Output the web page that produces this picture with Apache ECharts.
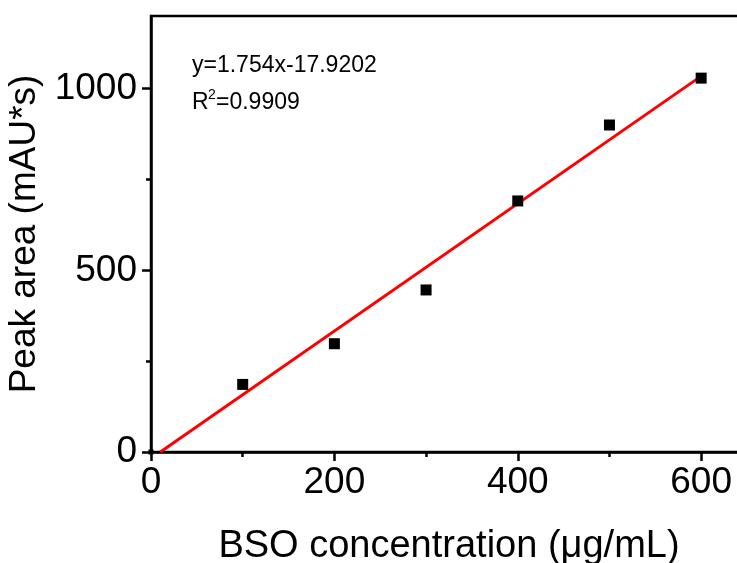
<!DOCTYPE html>
<html>
<head>
<meta charset="utf-8">
<script src="https://cdn.jsdelivr.net/npm/echarts@6/dist/echarts.min.js"></script>
<style>
  html, body { margin: 0; padding: 0; background: #fff; }
  #chart { width: 737px; height: 563px; }
</style>
</head>
<body>
<div id="chart"></div>
<script>
// measured points
var conc = [0, 100, 200, 300, 400, 500, 600];
var area = [0, 186, 298, 446, 691, 900, 1029];

// fitted line end points (y=1.754x-17.9202)
var fitX = [10.2, 600];
var fitY = [0, 1034.5];

var xMajor = [0, 200, 400, 600];
var xMinor = [100, 300, 500];
var yMajor = [0, 500, 1000];
var yMinor = [250, 750];

var chart = echarts.init(document.getElementById('chart'));
var font = 'Liberation Sans, Arial, sans-serif';

var pts = conc.map(function (c, i) { return [c, area[i]]; });
var fit = fitX.map(function (x, i) { return [x, fitY[i]]; });

var option = {
  animation: false,
  grid: {
    left: 151, top: 16, right: -10, bottom: 111,
    outerBoundsMode: 'none', containLabel: false,
    show: true, borderColor: '#000', borderWidth: 2.5, backgroundColor: 'transparent'
  },
  xAxis: [
    {
      type: 'value', min: 0, max: 650, interval: 200,
      name: 'BSO concentration (μg/mL)', nameLocation: 'middle', nameGap: 76,
      nameTextStyle: { fontFamily: font, fontSize: 38, color: '#000' },
      axisLine: { show: true, lineStyle: { color: '#000', width: 2.5 } },
      axisTick: { show: true, customValues: xMajor, length: 9, inside: false, lineStyle: { width: 2.5, color: '#000' } },
      axisLabel: { customValues: xMajor, fontFamily: font, fontSize: 37, color: '#000', margin: 12,
        formatter: function (v) { return String(v); } },
      splitLine: { show: false }
    },
    {
      type: 'value', min: 0, max: 650, position: 'bottom',
      axisLine: { show: false },
      axisTick: { show: true, customValues: xMinor, length: 5, lineStyle: { width: 2.5, color: '#000' } },
      axisLabel: { show: false },
      splitLine: { show: false }
    }
  ],
  yAxis: [
    {
      type: 'value', min: 0, max: 1200, interval: 500,
      name: 'Peak area (mAU*s)', nameLocation: 'middle', nameGap: 98,
      nameTextStyle: { fontFamily: font, fontSize: 37, color: '#000' },
      axisLine: { show: true, lineStyle: { color: '#000', width: 2.5 } },
      axisTick: { show: true, customValues: yMajor, length: 9, lineStyle: { width: 2.5, color: '#000' } },
      axisLabel: { customValues: yMajor, fontFamily: font, fontSize: 37, color: '#000', margin: 14,
        formatter: function (v) { return String(v); } },
      splitLine: { show: false }
    },
    {
      type: 'value', min: 0, max: 1200, position: 'left',
      axisLine: { show: false },
      axisTick: { show: true, customValues: yMinor, length: 5, lineStyle: { width: 2.5, color: '#000' } },
      axisLabel: { show: false },
      splitLine: { show: false }
    }
  ],
  graphic: [
    { type: 'text', left: 192, top: 54, style: { text: 'y=1.754x-17.9202', font: '23px ' + font, fill: '#000' } },
    { type: 'text', left: 192, top: 91, style: { text: 'R', font: '23px ' + font, fill: '#000' } },
    { type: 'text', left: 208, top: 88, style: { text: '2', font: '14px ' + font, fill: '#000' } },
    { type: 'text', left: 216, top: 91, style: { text: '=0.9909', font: '23px ' + font, fill: '#000' } }
  ],
  series: [
    {
      type: 'line', data: fit, showSymbol: false, symbol: 'none',
      lineStyle: { color: '#ff0000', width: 3 }, z: 2
    },
    {
      type: 'scatter', data: pts, symbol: 'rect',
      symbolSize: function (v) { return v[0] === 0 ? 5 : 11; },
      itemStyle: { color: '#000', opacity: 1 }, z: 3
    }
  ]
};

chart.setOption(option);
</script>
</body>
</html>
